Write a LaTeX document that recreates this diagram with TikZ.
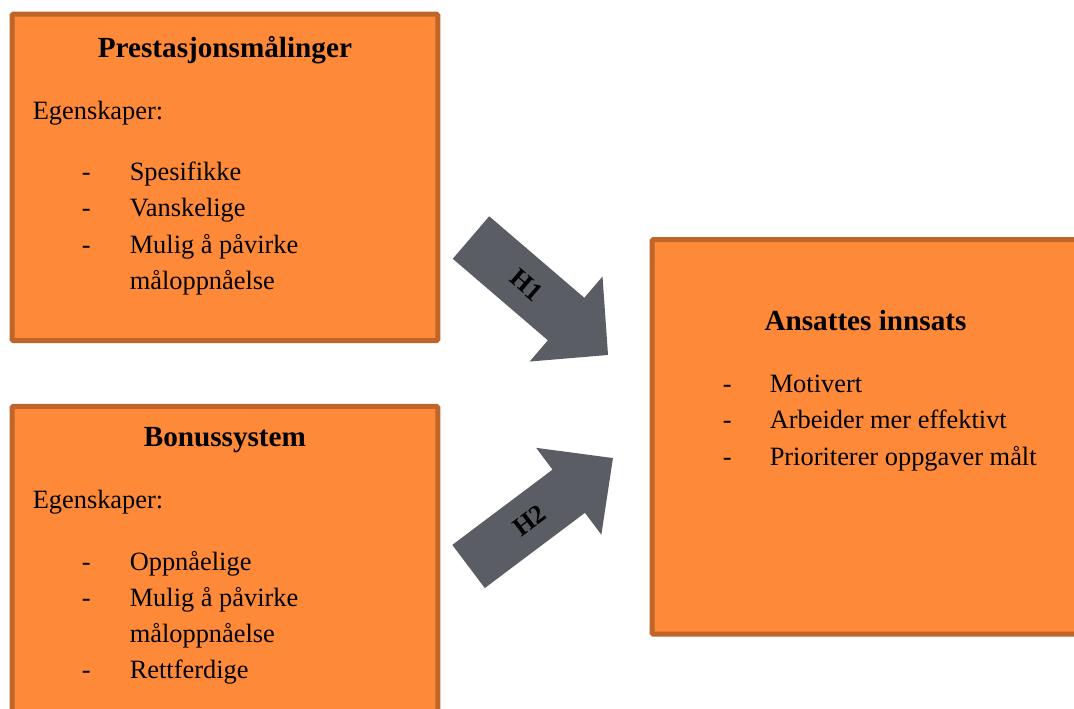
\documentclass[tikz,border=0pt]{standalone}
\usepackage{fontspec}
\setmainfont{Liberation Serif}
\definecolor{boxfill}{RGB}{254,137,56}
\definecolor{boxline}{RGB}{192,101,42}
\definecolor{arrowfill}{RGB}{90,93,100}
\tikzset{
  panel/.style={draw=boxline, fill=boxfill, line width=3.75pt, rounded corners=1pt,
    rectangle, inner sep=0pt},
  heading/.style={font=\fontsize{21.9pt}{26pt}\selectfont\bfseries, inner sep=0pt, anchor=base},
  bodytext/.style={font=\fontsize{19.8pt}{24pt}\selectfont, inner sep=0pt, anchor=base west},
  blockarrow/.style={fill=arrowfill},
  arrowlabel/.style={font=\fontsize{19.8pt}{24pt}\selectfont\bfseries, inner sep=0pt},
}
\begin{document}
\begin{tikzpicture}[x=0.75pt, y=-0.75pt]
\useasboundingbox (0,0) rectangle (1074,708);
\clip (0,0) rectangle (1074,708);

% --- the three boxes ---
\node[panel, minimum width=319.35pt, minimum height=244.9pt] (pm) at (224.9,177.45) {};
\node[panel, minimum width=319.35pt, minimum height=265.3pt] (bs) at (224.9,583.15) {};
\node[panel, minimum width=322.5pt, minimum height=296pt] (ai) at (867,436.85) {};

% --- Prestasjonsmålinger ---
\node[heading] (pmtitle) at (224.9,57) {Prestasjonsmålinger};
\node[bodytext] (pmeg) at (32.5,119) {Egenskaper:};
\node[bodytext] (pmd1) at (81.5,180.7) {-};
\node[bodytext] (pmi1) at (129.5,180.7) {Spesifikke};
\node[bodytext] (pmd2) at (81.5,216.9) {-};
\node[bodytext] (pmi2) at (129.5,216.9) {Vanskelige};
\node[bodytext] (pmd3) at (81.5,253.1) {-};
\node[bodytext] (pmi3) at (129.5,253.1) {Mulig å påvirke};
\node[bodytext] (pmi3b) at (129.5,289.3) {måloppnåelse};

% --- Bonussystem ---
\node[heading] (bstitle) at (224.9,446) {Bonussystem};
\node[bodytext] (bseg) at (32.5,508) {Egenskaper:};
\node[bodytext] (bsd1) at (81.5,570) {-};
\node[bodytext] (bsi1) at (129.5,570) {Oppnåelige};
\node[bodytext] (bsd2) at (81.5,606) {-};
\node[bodytext] (bsi2) at (129.5,606) {Mulig å påvirke};
\node[bodytext] (bsi2b) at (129.5,642) {måloppnåelse};
\node[bodytext] (bsd3) at (81.5,678) {-};
\node[bodytext] (bsi3) at (129.5,678) {Rettferdige};

% --- Ansattes innsats ---
\node[heading] (aititle) at (865.5,330) {Ansattes innsats};
\node[bodytext] (aid1) at (722.5,392.7) {-};
\node[bodytext] (aii1) at (769.5,392.7) {Motivert};
\node[bodytext] (aid2) at (722.5,428.8) {-};
\node[bodytext] (aii2) at (769.5,428.8) {Arbeider mer effektivt};
\node[bodytext] (aid3) at (722.5,465) {-};
\node[bodytext] (aii3) at (769.5,465) {Prioriterer oppgaver målt};

% --- block arrow H1 (pointing down-right) ---
\begin{scope}[shift={(539.5,296.25)}, rotate=-40.6]
  \fill[blockarrow] (-90.25,-28) -- (35,-28) -- (35,-56) -- (90.25,0)
    -- (35,56) -- (35,28) -- (-90.25,28) -- cycle;
  \node[arrowlabel, rotate=-40.6] (h1) at (-17,0) {H1};
\end{scope}

% --- block arrow H2 (pointing up-right) ---
\begin{scope}[shift={(540.75,512.25)}, rotate=36.9]
  \fill[blockarrow] (-90.3,-27) -- (35,-27) -- (35,-54.3) -- (90.3,0)
    -- (35,54.3) -- (35,27) -- (-90.3,27) -- cycle;
  \node[arrowlabel, rotate=36.9] (h2) at (-14,0) {H2};
\end{scope}
\end{tikzpicture}
\end{document}
